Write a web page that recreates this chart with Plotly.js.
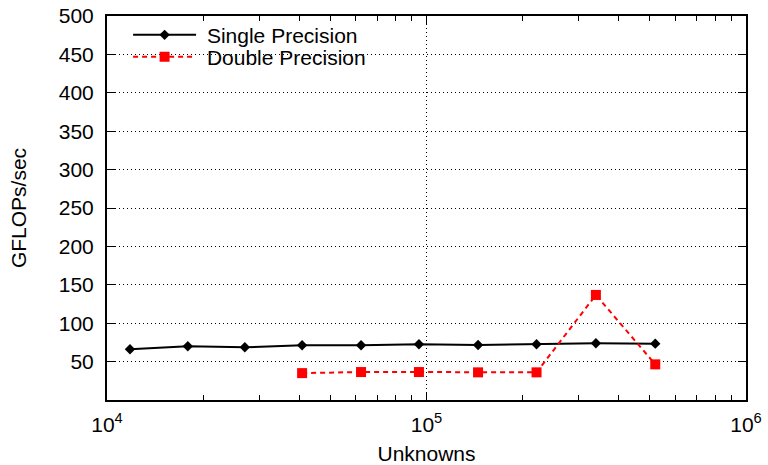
<!DOCTYPE html>
<html>
<head>
<meta charset="utf-8">
<script src="https://cdn.plot.ly/plotly-3.0.1.min.js"></script>
<style>html,body{margin:0;padding:0;background:#fff;}#chart{width:768px;height:465px;}</style>
</head>
<body>
<div id="chart"></div>
<script>
const unknowns = [11800, 17900, 27000, 40800, 62400, 94700, 145000, 221000, 339000, 520000];
const singleGflops = [66, 70, 68.6, 71.2, 71.2, 72.5, 71.6, 72.5, 73.8, 73.4];
const doubleUnknowns = [40800, 62400, 94700, 145000, 221000, 339000, 520000];
const doubleGflops = [35, 36.4, 36.4, 36, 36, 136.8, 46.4];
const xTickVals = [1e4, 1e5, 1e6];
const xTickText = ['10<sup>4</sup>', '10<sup>5</sup>', '10<sup>6</sup>'];
const xMinorVals = [2e4,3e4,4e4,5e4,6e4,7e4,8e4,9e4,2e5,3e5,4e5,5e5,6e5,7e5,8e5,9e5];
const yTickVals = [50,100,150,200,250,300,350,400,450,500];

const font = {family: 'Liberation Sans, Arial, sans-serif', size: 21, color: '#000'};

const traces = [
  {x: unknowns, y: singleGflops, name: '\u00a0Single Precision', mode: 'lines+markers', legend: 'legend',
   line: {color: '#000', width: 2}, marker: {symbol: 'diamond', size: 8, color: '#000'}},
  {x: doubleUnknowns, y: doubleGflops, name: '\u00a0Double Precision', mode: 'lines+markers', legend: 'legend2',
   line: {color: '#ff0000', width: 2, dash: '5px,4px'}, marker: {symbol: 'square', size: 10, color: '#ff0000'}}
];

const legendCommon = {xanchor: 'left', yanchor: 'middle', bgcolor: 'rgba(0,0,0,0)',
                      font: font, itemwidth: 63, borderwidth: 0};

const layout = {
  width: 768, height: 465,
  margin: {l: 107, r: 22, t: 16, b: 65},
  paper_bgcolor: '#fff', plot_bgcolor: '#fff',
  font: font,
  showlegend: true,
  legend: Object.assign({x: 0.033, y: 0.95}, legendCommon),
  legend2: Object.assign({x: 0.033, y: 0.893}, legendCommon),
  xaxis: {
    type: 'log', range: [4, 6],
    tickmode: 'array', tickvals: xTickVals, ticktext: xTickText,
    ticks: 'inside', ticklen: 8, tickwidth: 1, tickcolor: '#000',
    showline: true, linecolor: '#000', linewidth: 2, mirror: 'allticks',
    showgrid: true, gridcolor: '#000', griddash: '1px,3px', gridwidth: 1,
    zeroline: false, ticklabelstandoff: 5,
    minor: {tickmode: 'array', tickvals: xMinorVals, ticks: 'inside', ticklen: 5, tickcolor: '#000', tickwidth: 1, showgrid: false},
    title: {text: 'Unknowns', font: font, standoff: 13},
    tickfont: font
  },
  yaxis: {
    range: [0, 500],
    tickmode: 'array', tickvals: yTickVals,
    ticks: 'inside', ticklen: 8, tickwidth: 1, tickcolor: '#000',
    showline: true, linecolor: '#000', linewidth: 2, mirror: 'allticks',
    showgrid: true, gridcolor: '#000', griddash: '1px,3px', gridwidth: 1,
    zeroline: false, ticklabelstandoff: 7,
    title: {text: 'GFLOPs/sec', font: font, standoff: 26},
    tickfont: font
  }
};

Plotly.newPlot('chart', traces, layout, {staticPlot: true, displayModeBar: false});
</script>
</body>
</html>
